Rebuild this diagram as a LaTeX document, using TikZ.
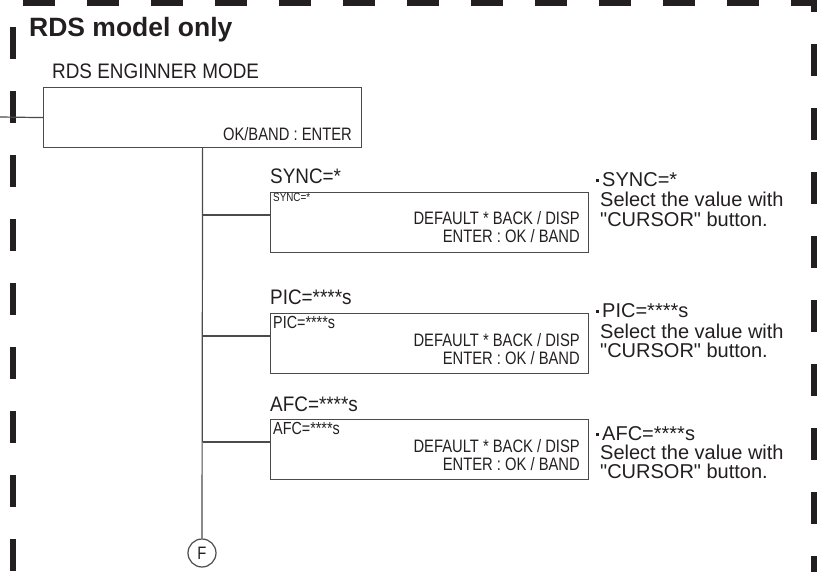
\documentclass[tikz,border=0pt]{standalone}
\usepackage{fontspec}
\setmainfont{Liberation Sans}
\newfontfamily\narrowfont[FakeStretch=0.9]{Liberation Sans}
\newfontfamily\condfont[FakeStretch=0.82]{Liberation Sans}
\usetikzlibrary{positioning}
\definecolor{inkBlack}{RGB}{35,31,32}
\definecolor{wireGray}{RGB}{75,75,75}

\tikzset{
  txt/.style={inner sep=0, text=inkBlack},
  heading/.style={txt, anchor=base west, font=\bfseries\fontsize{26.5}{26.5}\selectfont},
  title/.style={txt, anchor=base west, font=\narrowfont\fontsize{21}{21}\selectfont},
  keys/.style={txt, anchor=base east, font=\condfont\fontsize{18}{18}\selectfont},
  small/.style={txt, anchor=base west, font=\condfont\fontsize{17.5}{17.5}\selectfont},
  note/.style={txt, anchor=base west, font=\fontsize{20}{20}\selectfont},
  screen/.style={draw=wireGray, line width=1.2, minimum width=318, minimum height=60, inner sep=0, anchor=north west},
  wire/.style={draw=wireGray, line width=1.2},
  frame/.style={draw=inkBlack, line width=5.5, dash pattern=on 32 off 32},
}
\newcommand{\dotmark}{\raisebox{4.5pt}{\rule{3pt}{3pt}}\hspace{3.5pt}}

\begin{document}
\begin{tikzpicture}[x=1pt,y=-1pt]
\useasboundingbox (0,0) rectangle (817,572);

% dashed frame
\draw[frame, dash phase=54] (13,2.8) -- (814,2.8) -- (814,600);
\draw[frame, dash phase=40] (13,2.8) -- (13,600);

\node[heading] (rdsOnly) at (29,37) {RDS model only};

% engineer mode screen
\node[title] (modeTitle) at (52,79) {RDS ENGINNER MODE};
\node[screen] (enginner) at (43,87) {};
\node[keys] (okKey) at (352,141) {OK/BAND : ENTER};
\coordinate (inlet) at (0,117);
\draw[wire] (inlet) -- (enginner.west);

% end mark
\node[circle, draw=wireGray, line width=1.2, minimum size=28, inner sep=0, text=inkBlack,
      font=\condfont\fontsize{18}{18}\selectfont] (endF) at (202,553) {F};
\draw[wire] (enginner.south) -- (endF.north);

% SYNC
\node[title] (syncTitle) at (270,184) {SYNC=*};
\node[screen] (sync) at (270,192) {};
\node[small, font=\condfont\fontsize{12}{12}\selectfont] (syncLine) at (273,202) {SYNC=*};
\node[keys] (syncBack) at (580,225) {DEFAULT * BACK / DISP};
\node[keys] (syncEnter) at (580,243) {ENTER : OK / BAND};
\coordinate (syncIn) at (270,215);
\draw[wire] (syncIn -| enginner.south) -- (syncIn);
\node[note] (syncNoteA) at (595.5,187) {\dotmark SYNC=*};
\node[note] (syncNoteB) at (600,207) {Select the value with};
\node[note] (syncNoteC) at (600,227) {\textquotedbl CURSOR\textquotedbl{} button.};

% PIC
\node[title] (picTitle) at (270,305) {PIC=****s};
\node[screen] (pic) at (270,313) {};
\node[small] (picLine) at (273,328) {PIC=****s};
\node[keys] (picBack) at (580,346) {DEFAULT * BACK / DISP};
\node[keys] (picEnter) at (580,364) {ENTER : OK / BAND};
\coordinate (picIn) at (270,336);
\draw[wire] (picIn -| enginner.south) -- (picIn);
\node[note] (picNoteA) at (595.5,317) {\dotmark PIC=****s};
\node[note] (picNoteB) at (600,338) {Select the value with};
\node[note] (picNoteC) at (600,357) {\textquotedbl CURSOR\textquotedbl{} button.};

% AFC
\node[title] (afcTitle) at (270,411) {AFC=****s};
\node[screen] (afc) at (270,419) {};
\node[small] (afcLine) at (273,434) {AFC=****s};
\node[keys] (afcBack) at (580,452) {DEFAULT * BACK / DISP};
\node[keys] (afcEnter) at (580,470) {ENTER : OK / BAND};
\coordinate (afcIn) at (270,442);
\draw[wire] (afcIn -| enginner.south) -- (afcIn);
\node[note] (afcNoteA) at (595.5,440) {\dotmark AFC=****s};
\node[note] (afcNoteB) at (600,459) {Select the value with};
\node[note] (afcNoteC) at (600,478) {\textquotedbl CURSOR\textquotedbl{} button.};
\end{tikzpicture}
\end{document}
